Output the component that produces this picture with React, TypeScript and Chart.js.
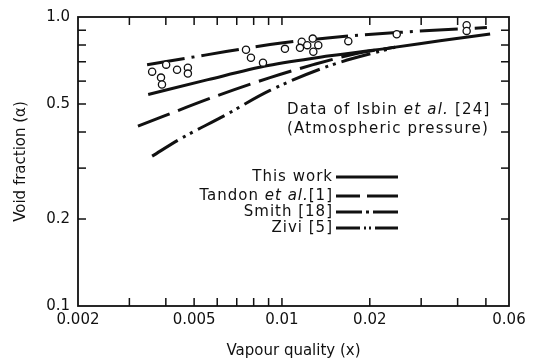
import React, { useEffect, useRef } from "react";
import { Chart, registerables } from "chart.js";
Chart.register(...registerables);

const X_TICK_VALUES = [0.002, 0.005, 0.01, 0.02, 0.06];
const X_TICK_LABELS = ["0.002", "0.005", "0.01", "0.02", "0.06"];
const Y_TICK_VALUES = [0.1, 0.2, 0.5, 1.0];
const Y_TICK_LABELS = ["0.1", "0.2", "0.5", "1.0"];
const X_MINOR = [0.003, 0.004, 0.005, 0.006, 0.007, 0.008, 0.009, 0.01, 0.02, 0.03, 0.04, 0.05];
const Y_MINOR = [0.2, 0.3, 0.4, 0.5, 0.6, 0.7, 0.8, 0.9];

const THIS_WORK_X = [0.00348, 0.00558, 0.00896, 0.0146, 0.0235, 0.0348, 0.0517];
const THIS_WORK_Y = [0.539, 0.607, 0.679, 0.734, 0.782, 0.827, 0.874];

const TANDON_X = [0.00321, 0.0059, 0.0091, 0.0128, 0.0185, 0.0244];
const TANDON_Y = [0.419, 0.531, 0.617, 0.684, 0.752, 0.786];

const SMITH_X = [0.00345, 0.00545, 0.0091, 0.0146, 0.0254, 0.0504];
const SMITH_Y = [0.684, 0.738, 0.803, 0.848, 0.885, 0.92];

const ZIVI_X = [0.00359, 0.00447, 0.00628, 0.0091, 0.0146, 0.0244];
const ZIVI_Y = [0.33, 0.378, 0.453, 0.557, 0.679, 0.786];

const ISBIN_X = [0.00359, 0.00401, 0.00385, 0.00388, 0.00437, 0.00476, 0.00476, 0.00753, 0.00783, 0.00861, 0.01024, 0.01169, 0.01153, 0.01221, 0.01275, 0.01332, 0.01281, 0.01688, 0.02474, 0.04296, 0.04296];
const ISBIN_Y = [0.647, 0.684, 0.617, 0.584, 0.657, 0.668, 0.637, 0.77, 0.723, 0.695, 0.776, 0.821, 0.782, 0.799, 0.842, 0.799, 0.758, 0.825, 0.872, 0.936, 0.895];

type Seg = { t: string; i?: boolean };
const LEGEND_LABELS: Seg[][] = [
  [{ t: "This work" }],
  [{ t: "Tandon " }, { t: "et al.", i: true }, { t: "[1]" }],
  [{ t: "Smith [18]" }],
  [{ t: "Zivi [5]" }],
];
const NOTE_LINE1: Seg[] = [{ t: "Data of Isbin " }, { t: "et al.", i: true }, { t: " [24]" }];
const NOTE_LINE2: Seg[] = [{ t: "(Atmospheric pressure)" }];
const X_TITLE = "Vapour quality (x)";
const Y_TITLE = "Void fraction (α)";

const INK = "#111111";
const FONT = '"DejaVu Sans", sans-serif';
const LEGEND_DASH = [[], [24, 7, 60], [26, 4, 3, 4, 60], [24, 4, 2, 3, 2, 4, 60]];

const zip = (xs: number[], ys: number[]) => xs.map((x, i) => ({ x, y: ys[i] }));

function drawRich(ctx: CanvasRenderingContext2D, segs: Seg[], x: number, y: number, align: "left" | "right", size: number, spacing: string) {
  const fontFor = (it?: boolean) => `${it ? "italic " : ""}${size}px ${FONT}`;
  (ctx as any).letterSpacing = spacing;
  let total = 0;
  for (const s of segs) {
    ctx.font = fontFor(s.i);
    total += ctx.measureText(s.t).width;
  }
  let cx = align === "right" ? x - total : x;
  ctx.textAlign = "left";
  ctx.textBaseline = "middle";
  for (const s of segs) {
    ctx.font = fontFor(s.i);
    ctx.fillText(s.t, cx, y);
    cx += ctx.measureText(s.t).width;
  }
  (ctx as any).letterSpacing = "0px";
}

const decor = {
  id: "decor",
  afterDraw(chart: any) {
    const { ctx, chartArea: a, scales } = chart;
    const xs = scales.x;
    const ys = scales.y;
    ctx.save();
    ctx.setLineDash([]);
    ctx.strokeStyle = INK;
    ctx.fillStyle = INK;
    ctx.lineWidth = 1.8;
    ctx.strokeRect(a.left, a.top, a.right - a.left, a.bottom - a.top);
    const L = 8;
    const W = 1.5;
    for (const v of X_MINOR) {
      const px = xs.getPixelForValue(v);
      ctx.fillRect(px - W / 2, a.bottom - L, W, L);
      ctx.fillRect(px - W / 2, a.top, W, L);
    }
    for (const v of Y_MINOR) {
      const py = ys.getPixelForValue(v);
      ctx.fillRect(a.left, py - W / 2, L, W);
      ctx.fillRect(a.right - L, py - W / 2, L, W);
    }

    // legend
    const rowsY = [160, 179, 195, 211];
    const ds = chart.data.datasets;
    for (let i = 0; i < LEGEND_LABELS.length; i++) {
      const y = a.top + rowsY[i];
      drawRich(ctx, LEGEND_LABELS[i], a.left + 255, y, "right", 15, "1px");
      ctx.beginPath();
      ctx.lineWidth = ds[i].borderWidth;
      ctx.setLineDash(LEGEND_DASH[i]);
      ctx.moveTo(a.left + 258, y);
      ctx.lineTo(a.left + 320, y);
      ctx.stroke();
      ctx.setLineDash([]);
    }

    drawRich(ctx, NOTE_LINE1, a.left + 209, a.top + 93, "left", 15, "1.2px");
    drawRich(ctx, NOTE_LINE2, a.left + 209, a.top + 112, "left", 15, "1.2px");
    ctx.restore();
  },
};

export default function App() {
  const ref = useRef<HTMLCanvasElement | null>(null);
  useEffect(() => {
    if (!ref.current) return;
    const lineBase = {
      showLine: true,
      pointRadius: 0,
      borderColor: INK,
      backgroundColor: INK,
      borderWidth: 3,
      cubicInterpolationMode: "monotone" as const,
      fill: false,
    };
    const chart = new Chart(ref.current, {
      type: "scatter",
      data: {
        datasets: [
          { ...lineBase, label: "This work", data: zip(THIS_WORK_X, THIS_WORK_Y), borderDash: [], order: 2 },
          { ...lineBase, label: "Tandon et al.[1]", data: zip(TANDON_X, TANDON_Y), borderDash: [34, 9], order: 2 },
          { ...lineBase, label: "Smith [18]", data: zip(SMITH_X, SMITH_Y), borderDash: [38, 7, 3, 7], order: 2 },
          { ...lineBase, label: "Zivi [5]", data: zip(ZIVI_X, ZIVI_Y), borderDash: [30, 6, 3, 5, 3, 6], order: 2 },
          {
            label: "Isbin et al. [24]",
            data: zip(ISBIN_X, ISBIN_Y),
            showLine: false,
            pointRadius: 3.6,
            pointBorderWidth: 1.3,
            pointBorderColor: INK,
            pointBackgroundColor: "#ffffff",
            order: 1,
          },
        ],
      },
      options: {
        animation: false,
        responsive: true,
        maintainAspectRatio: false,
        layout: { padding: { top: 15, right: 31, left: 0, bottom: 0 } },
        plugins: { legend: { display: false }, tooltip: { enabled: false } },
        scales: {
          x: {
            type: "logarithmic",
            min: 0.002,
            max: 0.06,
            grid: { display: false, drawTicks: false },
            border: { display: false },
            afterBuildTicks: (s: any) => {
              s.ticks = X_TICK_VALUES.map((v) => ({ value: v }));
            },
            afterFit: (s: any) => {
              s.height = 54;
            },
            ticks: {
              autoSkip: false,
              maxRotation: 0,
              padding: 5,
              color: INK,
              font: { family: FONT, size: 15 },
              callback: (_v: any, i: number) => X_TICK_LABELS[i],
            },
            title: {
              display: true,
              text: X_TITLE,
              color: INK,
              font: { family: FONT, size: 15 },
              padding: { top: 0, bottom: 0 },
            },
          },
          y: {
            type: "logarithmic",
            min: 0.1,
            max: 1.0,
            grid: { display: false, drawTicks: false },
            border: { display: false },
            afterBuildTicks: (s: any) => {
              s.ticks = Y_TICK_VALUES.map((v) => ({ value: v }));
            },
            afterFit: (s: any) => {
              s.width = 78;
            },
            ticks: {
              autoSkip: false,
              padding: 8,
              color: INK,
              font: { family: FONT, size: 15 },
              callback: (_v: any, i: number) => Y_TICK_LABELS[i],
            },
            title: {
              display: true,
              text: Y_TITLE,
              color: INK,
              font: { family: FONT, size: 15 },
              padding: { top: 12, bottom: 0 },
            },
          },
        },
      },
      plugins: [decor],
    });
    return () => chart.destroy();
  }, []);
  return (
    <div style={{ position: "fixed", left: 0, top: 0, width: 540, height: 360, background: "#fff" }}>
      <canvas ref={ref} />
    </div>
  );
}
